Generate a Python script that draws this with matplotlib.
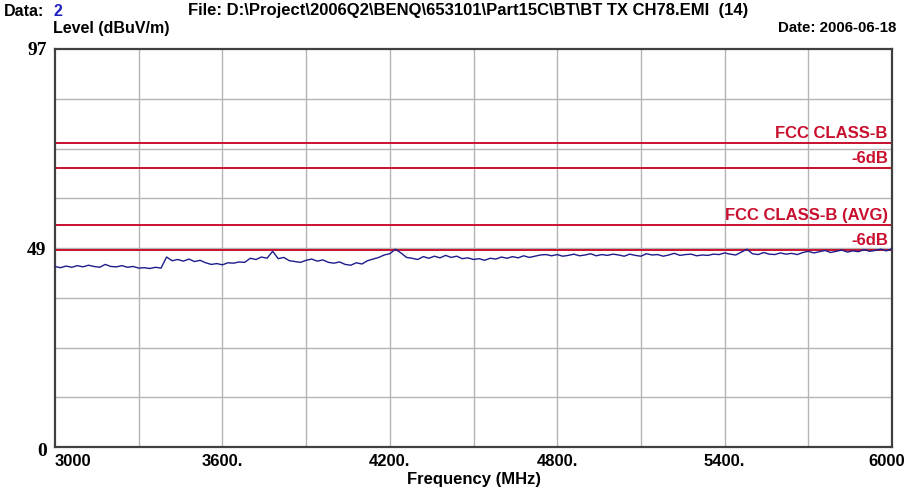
"""
EMI scan: BT TX CH78, 3-6 GHz, with FCC class-B limit lines
"""
import matplotlib
matplotlib.use('Agg')
import matplotlib.pyplot as plt
import matplotlib.transforms as mtransforms

freq = list(range(3000, 6001, 20))
level = [44.0, 43.7, 44.1, 43.8, 44.2, 43.9, 44.3, 44.0, 43.8, 44.5,
         44.0, 43.9, 44.2, 43.8, 44.0, 43.6, 43.7, 43.5, 43.8, 43.6,
         46.3, 45.4, 45.7, 45.3, 45.8, 45.2, 45.5, 44.9, 44.5, 44.7,
         44.4, 44.9, 44.8, 45.1, 45.0, 46.0, 45.7, 46.3, 46.0, 47.7,
         45.9, 46.2, 45.4, 45.2, 45.0, 45.5, 45.8, 45.3, 45.6, 45.0,
         44.8, 45.1, 44.5, 44.3, 44.9, 44.6, 45.4, 45.8, 46.2, 46.8,
         47.1, 48.2, 47.3, 46.2, 46.0, 45.7, 46.4, 46.0, 46.5, 46.1,
         46.7, 46.2, 46.5, 45.9, 46.1, 45.7, 45.9, 45.5, 46.0, 45.8,
         46.3, 46.0, 46.4, 46.1, 46.6, 46.2, 46.5, 46.8, 46.9, 46.6,
         46.9, 46.5, 46.7, 47.0, 46.6, 46.8, 47.1, 46.6, 46.9, 46.7,
         47.0, 46.8, 46.5, 47.0, 46.7, 46.5, 47.1, 46.8, 46.9, 46.5,
         46.8, 47.2, 46.7, 46.9, 47.0, 46.6, 46.8, 46.7, 47.0, 46.9,
         47.3, 47.0, 46.8, 47.5, 48.2, 47.1, 46.9, 47.4, 47.0, 46.9,
         47.3, 47.0, 47.2, 46.9, 47.4, 47.7, 47.3, 47.6, 47.9, 47.4,
         47.7, 48.0, 47.5, 47.8, 47.6, 48.1, 47.7, 47.9, 48.2, 47.8,
         48.3]

# Limit lines
limit_values = [74, 68, 54, 48]
limit_labels = ['FCC CLASS-B', '-6dB', 'FCC CLASS-B (AVG)', '-6dB']

x_ticks = [3000, 3600, 4200, 4800, 5400, 6000]
x_ticklabels = ['3000', '3600.', '4200.', '4800.', '5400.', '6000']
y_ticks = [0, 48.5, 97]
y_ticklabels = ['0', '49', '97']

SANS = ['Liberation Sans', 'DejaVu Sans']
SERIF = ['Liberation Serif', 'DejaVu Serif']
RED = '#c8102e'
W, H = 909, 493

fig = plt.figure(figsize=(W / 100, H / 100), dpi=100)
ax = fig.add_axes([55 / W, 1 - 447 / H, (892 - 55) / W, (447 - 49) / H])

# Grid
for gx in range(3300, 6000, 300):
    ax.axvline(gx, color='#b4b4b4', lw=1, zorder=1)
for k in range(1, 8):
    ax.axhline(97 / 8 * k, color='#b4b4b4', lw=1, zorder=1)

# Limits + labels
for val, lab in zip(limit_values, limit_labels):
    ax.axhline(val, color=RED, lw=1.4, zorder=2)
    ax.text(5985, val + 0.6, lab, color=RED, ha='right', va='bottom',
            fontsize=12, fontweight='bold', family=SANS, zorder=3)

ax.plot(freq, level, color='#1c1c8c', lw=1.0, zorder=4)

ax.set_xlim(3000, 6000)
ax.set_ylim(0, 97)
ax.set_xticks(x_ticks)
ax.set_xticklabels(x_ticklabels, fontsize=12, fontweight='bold', family=SANS)
ax.set_yticks(y_ticks)
ax.set_yticklabels(y_ticklabels, fontsize=14, fontweight='bold', family=SERIF)
ax.tick_params(length=0, pad=6)
ax.tick_params(axis='x', pad=5)
xl = ax.get_xticklabels()
xl[0].set_ha('left')
xl[-1].set_ha('right')
xl[-1].set_transform(xl[-1].get_transform() +
                     mtransforms.ScaledTranslation(13 / 100, 0, fig.dpi_scale_trans))
yl = ax.get_yticklabels()
yl[-1].set_transform(yl[-1].get_transform() +
                     mtransforms.ScaledTranslation(0, 1 / 100, fig.dpi_scale_trans))
yl[0].set_transform(yl[0].get_transform() +
                    mtransforms.ScaledTranslation(0, -3 / 100, fig.dpi_scale_trans))

for s in ax.spines.values():
    s.set_color('#404040')
    s.set_linewidth(1.6)

ax.set_xlabel('Frequency (MHz)', fontsize=12, fontweight='bold', family=SANS,
              labelpad=2)

# Header texts
def px(x, y):
    return x / W, 1 - y / H

fig.text(*px(4, 11), 'Data:', fontsize=11.5, fontweight='bold', family=SANS,
         va='center', ha='left')
fig.text(*px(54, 11), '2', fontsize=11.5, fontweight='bold', family=SANS,
         va='center', ha='left', color='#2020c0')
fig.text(*px(188, 11), 'File: D:\\Project\\2006Q2\\BENQ\\653101\\Part15C\\BT\\BT TX CH78.EMI  (14)',
         fontsize=12, fontweight='bold', family=SANS, va='center', ha='left')
fig.text(*px(53, 28), 'Level (dBuV/m)', fontsize=11.5, fontweight='bold', family=SANS,
         va='center', ha='left')
fig.text(*px(896, 28), 'Date: 2006-06-18', fontsize=10.8, fontweight='bold', family=SANS,
         va='center', ha='right')

fig.savefig('out.png', dpi=100)
